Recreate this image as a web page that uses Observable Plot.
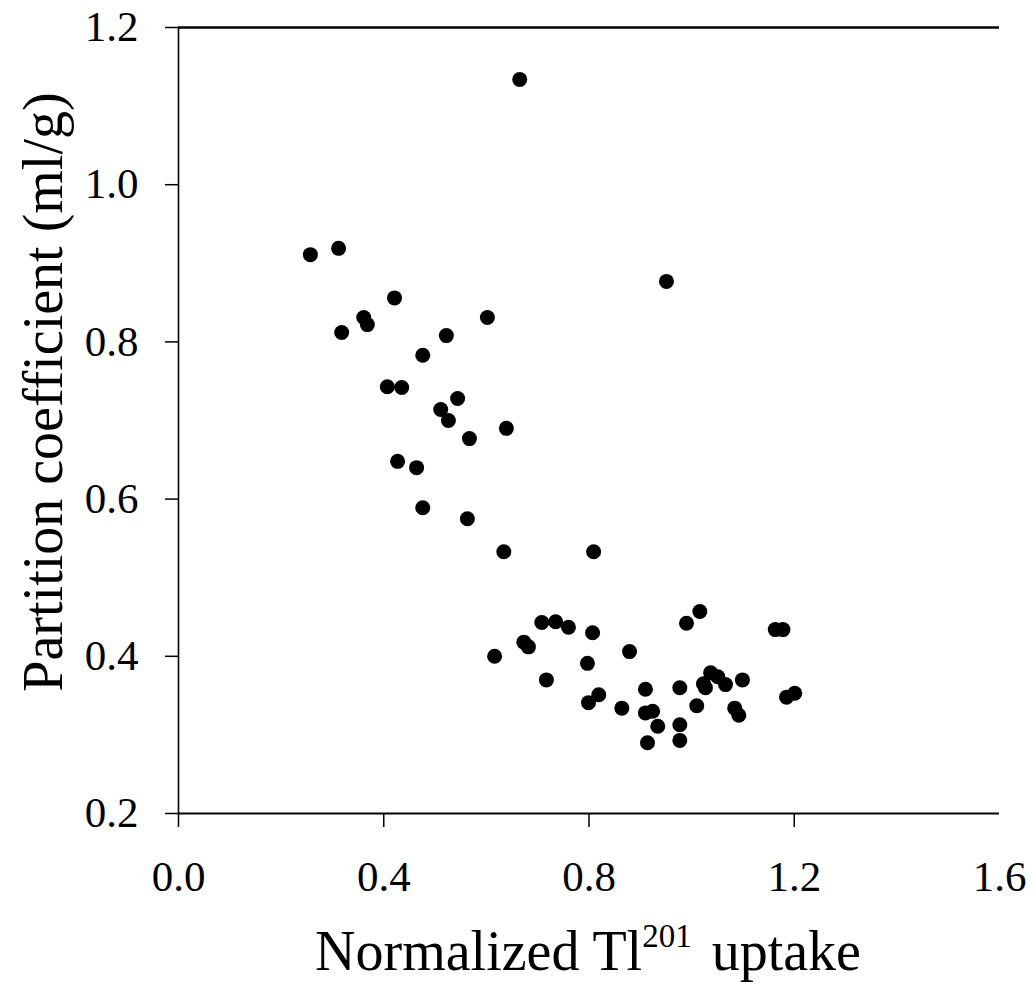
<!DOCTYPE html>
<html>
<head>
<meta charset="utf-8">
<script src="https://cdn.jsdelivr.net/npm/d3@7"></script>
<script src="https://cdn.jsdelivr.net/npm/@observablehq/plot@0.6"></script>
<style>
  html, body { margin: 0; padding: 0; background: #fff; }
</style>
</head>
<body>
<div id="chart"></div>
<script>
const xTicks = [0.0, 0.4, 0.8, 1.2, 1.6];
const xTickMarks = [0.0, 0.4, 0.8, 1.2];
const yTicks = [0.2, 0.4, 0.6, 0.8, 1.0, 1.2];

const uptake = [
  0.665, 0.257, 0.312, 0.421, 0.361, 0.368, 0.318, 0.602, 0.522, 0.476,
  0.407, 0.435, 0.544, 0.511, 0.526, 0.639, 0.567, 0.427, 0.464, 0.476,
  0.563, 0.951, 0.634, 0.809, 1.016, 0.990, 1.163, 1.178, 0.708, 0.735,
  0.760, 0.807, 0.673, 0.682, 0.616, 0.879, 0.797, 0.717, 1.099, 1.037,
  1.051, 1.066, 1.023, 1.027, 0.977, 0.910, 0.819, 0.799, 0.864, 1.010,
  0.910, 0.924, 1.084, 1.092, 0.934, 0.977, 0.914, 0.977, 1.185, 1.201
];
const partition = [
  1.134, 0.911, 0.919, 0.856, 0.831, 0.822, 0.812, 0.831, 0.808, 0.783,
  0.743, 0.742, 0.728, 0.714, 0.700, 0.690, 0.677, 0.648, 0.640, 0.589,
  0.575, 0.877, 0.533, 0.533, 0.457, 0.442, 0.434, 0.434, 0.443, 0.444,
  0.437, 0.430, 0.418, 0.412, 0.400, 0.406, 0.391, 0.370, 0.370, 0.379,
  0.374, 0.364, 0.365, 0.360, 0.360, 0.358, 0.351, 0.341, 0.334, 0.337,
  0.328, 0.330, 0.334, 0.325, 0.311, 0.313, 0.290, 0.293, 0.348, 0.353
];

const xTitle = ["Normalized Tl", "201", " uptake"];
const yTitle = "Partition coefficient (ml/g)";

const data = uptake.map((u, i) => ({x: u, y: partition[i]}));
const fmt = d3.format(".1f");

const plot = Plot.plot({
  width: 1034,
  height: 987,
  marginLeft: 178,
  marginRight: 35,
  marginTop: 27,
  marginBottom: 174,
  style: {
    fontFamily: '"Liberation Serif", "Times New Roman", serif',
    fontSize: "43px",
    background: "white",
    color: "black",
    overflow: "visible"
  },
  x: {domain: [0, 1.6]},
  y: {domain: [0.2, 1.2]},
  marks: [
    Plot.ruleY([1.2], {stroke: "black", strokeWidth: 2.5}),
    Plot.ruleY([0.2], {stroke: "black", strokeWidth: 2}),
    Plot.ruleX([0], {stroke: "black", strokeWidth: 1.6}),
    Plot.axisX({ticks: xTickMarks, tickSize: 14, tickFormat: () => "", label: null, stroke: "black", strokeWidth: 1.5}),
    Plot.axisX({ticks: xTicks, tickSize: 0, tickPadding: 47, tickFormat: fmt, label: null}),
    Plot.axisY({ticks: yTicks, tickSize: 13, tickPadding: 27, tickFormat: fmt, label: null, stroke: "black", strokeWidth: 1.5}),
    Plot.dot(data, {x: "x", y: "y", r: 7.5, fill: "black", stroke: "none"})
  ]
});

const svg = d3.select(plot);
const xt = svg.append("text")
  .attr("x", 588).attr("y", 970)
  .attr("text-anchor", "middle")
  .attr("font-size", 56)
  .attr("fill", "black");
xt.append("tspan").text(xTitle[0]);
xt.append("tspan").attr("font-size", 33).attr("dy", -23).text(xTitle[1]);
xt.append("tspan").attr("font-size", 56).attr("dy", 23).attr("dx", 6).text(xTitle[2]);

svg.append("text")
  .attr("transform", "translate(62,392) rotate(-90)")
  .attr("text-anchor", "middle")
  .attr("font-size", 56)
  .attr("fill", "black")
  .text(yTitle);

document.getElementById("chart").appendChild(plot);
</script>
</body>
</html>
